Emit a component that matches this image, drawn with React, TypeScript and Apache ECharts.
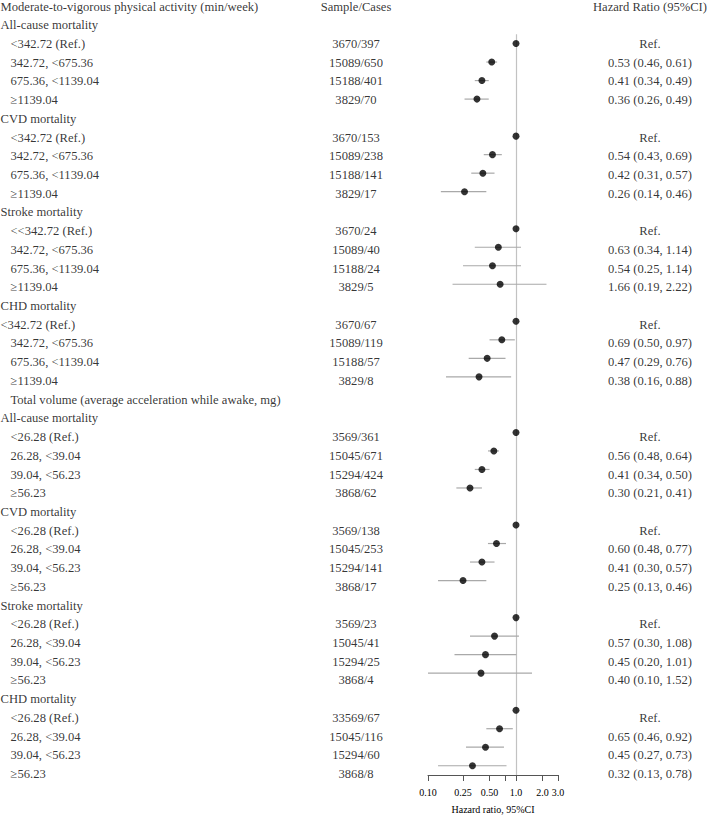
import React, { useEffect, useRef } from "react";
import * as echarts from "echarts";

const FONT = "'Liberation Serif', 'Times New Roman', Times, serif";

const rowLabels: string[] = [
  "Moderate-to-vigorous physical activity (min/week)",
  "All-cause mortality",
  "<342.72 (Ref.)",
  "342.72, <675.36",
  "675.36, <1139.04",
  "≥1139.04",
  "CVD mortality",
  "<342.72 (Ref.)",
  "342.72, <675.36",
  "675.36, <1139.04",
  "≥1139.04",
  "Stroke mortality",
  "<<342.72 (Ref.)",
  "342.72, <675.36",
  "675.36, <1139.04",
  "≥1139.04",
  "CHD mortality",
  "<342.72 (Ref.)",
  "342.72, <675.36",
  "675.36, <1139.04",
  "≥1139.04",
  "Total volume (average acceleration while awake, mg)",
  "All-cause mortality",
  "<26.28 (Ref.)",
  "26.28, <39.04",
  "39.04, <56.23",
  "≥56.23",
  "CVD mortality",
  "<26.28 (Ref.)",
  "26.28, <39.04",
  "39.04, <56.23",
  "≥56.23",
  "Stroke mortality",
  "<26.28 (Ref.)",
  "26.28, <39.04",
  "39.04, <56.23",
  "≥56.23",
  "CHD mortality",
  "<26.28 (Ref.)",
  "26.28, <39.04",
  "39.04, <56.23",
  "≥56.23",
];

const rowIndented: boolean[] = [
  false,
  false, true, true, true, true,
  false, true, true, true, true,
  false, true, true, true, true,
  false, false, true, true, true,
  true,
  false, true, true, true, true,
  false, true, true, true, true,
  false, true, true, true, true,
  false, true, true, true, true,
];

const sampleCases: string[] = [
  "Sample/Cases",
  "", "3670/397", "15089/650", "15188/401", "3829/70",
  "", "3670/153", "15089/238", "15188/141", "3829/17",
  "", "3670/24", "15089/40", "15188/24", "3829/5",
  "", "3670/67", "15089/119", "15188/57", "3829/8",
  "",
  "", "3569/361", "15045/671", "15294/424", "3868/62",
  "", "3569/138", "15045/253", "15294/141", "3868/17",
  "", "3569/23", "15045/41", "15294/25", "3868/4",
  "", "33569/67", "15045/116", "15294/60", "3868/8",
];

const hrTexts: string[] = [
  "Hazard Ratio (95%CI)",
  "", "Ref.", "0.53 (0.46, 0.61)", "0.41 (0.34, 0.49)", "0.36 (0.26, 0.49)",
  "", "Ref.", "0.54 (0.43, 0.69)", "0.42 (0.31, 0.57)", "0.26 (0.14, 0.46)",
  "", "Ref.", "0.63 (0.34, 1.14)", "0.54 (0.25, 1.14)", "1.66 (0.19, 2.22)",
  "", "Ref.", "0.69 (0.50, 0.97)", "0.47 (0.29, 0.76)", "0.38 (0.16, 0.88)",
  "",
  "", "Ref.", "0.56 (0.48, 0.64)", "0.41 (0.34, 0.50)", "0.30 (0.21, 0.41)",
  "", "Ref.", "0.60 (0.48, 0.77)", "0.41 (0.30, 0.57)", "0.25 (0.13, 0.46)",
  "", "Ref.", "0.57 (0.30, 1.08)", "0.45 (0.20, 1.01)", "0.40 (0.10, 1.52)",
  "", "Ref.", "0.65 (0.46, 0.92)", "0.45 (0.27, 0.73)", "0.32 (0.13, 0.78)",
];

// plotted estimates (as drawn in the figure)
const hrPoint: (number | null)[] = [
  null,
  null, 1, 0.53, 0.41, 0.36,
  null, 1, 0.54, 0.42, 0.26,
  null, 1, 0.63, 0.54, 0.66,
  null, 1, 0.69, 0.47, 0.38,
  null,
  null, 1, 0.56, 0.41, 0.30,
  null, 1, 0.60, 0.41, 0.25,
  null, 1, 0.57, 0.45, 0.40,
  null, 1, 0.65, 0.45, 0.32,
];

const ciLower: (number | null)[] = [
  null,
  null, null, 0.46, 0.34, 0.26,
  null, null, 0.43, 0.31, 0.14,
  null, null, 0.34, 0.25, 0.19,
  null, null, 0.50, 0.29, 0.16,
  null,
  null, null, 0.48, 0.34, 0.21,
  null, null, 0.48, 0.30, 0.13,
  null, null, 0.30, 0.20, 0.10,
  null, null, 0.46, 0.27, 0.13,
];

const ciUpper: (number | null)[] = [
  null,
  null, null, 0.61, 0.49, 0.49,
  null, null, 0.69, 0.57, 0.46,
  null, null, 1.14, 1.14, 2.22,
  null, null, 0.97, 0.76, 0.88,
  null,
  null, null, 0.64, 0.50, 0.41,
  null, null, 0.77, 0.57, 0.46,
  null, null, 1.08, 1.01, 1.52,
  null, null, 0.92, 0.73, 0.78,
];

const axisTickValues = [0.1, 0.25, 0.5, 0.75, 1, 2, 3];
const axisTickLabels = ["0.10", "0.25", "0.50", "", "1.0", "2.0", "3.0"];
const axisTitle = "Hazard ratio, 95%CI";

export default function App() {
  const ref = useRef<HTMLDivElement>(null);

  useEffect(() => {
    const chart = echarts.init(ref.current!, null, { renderer: "svg" });
    const nRows = rowLabels.length;
    const top = 6.5;
    const height = 776.9;
    const lg = (v: number) => Math.log10(v);

    const ciData: number[][] = [];
    const pointData: number[][] = [];
    hrPoint.forEach((v, i) => {
      if (v != null) pointData.push([lg(v), i]);
      const lo = ciLower[i];
      const hi = ciUpper[i];
      if (lo != null && hi != null) ciData.push([lg(lo), lg(hi), i]);
    });

    const textStyle = { fontFamily: FONT, fontSize: 12.6, color: "#000" };

    const leftData = rowLabels.map((t, i) => ({
      name: t,
      value: [rowIndented[i] ? 10 : 0, i],
    }));
    const sampleData = sampleCases
      .map((t, i) => ({ name: t, value: [356, i] }))
      .filter((d) => d.name !== "");
    const hrData = hrTexts
      .map((t, i) => ({ name: t, value: [650, i] }))
      .filter((d) => d.name !== "");

    const tickLog = axisTickValues.map(lg);
    const labelLog = axisTickValues.filter((_, i) => axisTickLabels[i] !== "").map(lg);

    const yAxisBase = {
      type: "value",
      inverse: true,
      min: 0,
      max: nRows - 0.5,
      show: false,
    };

    chart.setOption({
      animation: false,
      grid: [
        { left: 428, width: 130, top, height },
        { left: 0, width: 709, top, height },
      ],
      xAxis: [
        {
          type: "value",
          gridIndex: 0,
          min: -1,
          max: lg(3),
          axisLine: { show: true, onZero: false, lineStyle: { color: "#555", width: 1 } },
          axisTick: {
            show: true,
            length: 6,
            customValues: tickLog,
            lineStyle: { color: "#555", width: 1 },
          },
          axisLabel: {
            customValues: labelLog,
            formatter: (v: number) => {
              const idx = tickLog.findIndex((t) => Math.abs(t - v) < 1e-6);
              return idx >= 0 ? axisTickLabels[idx] : "";
            },
            fontSize: 10,
            fontFamily: FONT,
            color: "#000",
            margin: 12,
          },
          splitLine: { show: false },
          name: axisTitle,
          nameLocation: "middle",
          nameGap: 29,
          nameTextStyle: { fontSize: 10, fontFamily: FONT, color: "#000" },
        },
        { type: "value", gridIndex: 1, min: 0, max: 709, show: false },
      ],
      yAxis: [
        { ...yAxisBase, gridIndex: 0 },
        { ...yAxisBase, gridIndex: 1 },
      ],
      series: [
        {
          type: "custom",
          xAxisIndex: 0,
          yAxisIndex: 0,
          silent: true,
          encode: { x: [0, 1], y: 2 },
          data: ciData,
          renderItem: (_params: any, api: any) => {
            const p1 = api.coord([api.value(0), api.value(2)]);
            const p2 = api.coord([api.value(1), api.value(2)]);
            return {
              type: "line",
              shape: { x1: p1[0], y1: p1[1], x2: p2[0], y2: p2[1] },
              style: { stroke: "#a9a9a9", lineWidth: 1.2 },
            };
          },
          z: 2,
        },
        {
          type: "scatter",
          xAxisIndex: 0,
          yAxisIndex: 0,
          silent: true,
          symbol: "circle",
          symbolSize: 7,
          itemStyle: { color: "#000" },
          data: pointData,
          z: 3,
          markLine: {
            silent: true,
            symbol: ["none", "none"],
            label: { show: false },
            lineStyle: { color: "#c2c2c2", type: "solid", width: 1.2 },
            data: [[{ coord: [0, 1.5] }, { coord: [0, nRows - 0.5] }]],
            z: 1,
          },
        },
        {
          type: "scatter",
          xAxisIndex: 1,
          yAxisIndex: 1,
          silent: true,
          symbolSize: 1,
          itemStyle: { color: "transparent" },
          data: leftData,
          label: {
            show: true,
            position: "right",
            distance: 0,
            formatter: "{b}",
            ...textStyle,
          },
        },
        {
          type: "scatter",
          xAxisIndex: 1,
          yAxisIndex: 1,
          silent: true,
          symbolSize: 1,
          itemStyle: { color: "transparent" },
          data: sampleData,
          label: {
            show: true,
            position: "inside",
            formatter: "{b}",
            ...textStyle,
          },
        },
        {
          type: "scatter",
          xAxisIndex: 1,
          yAxisIndex: 1,
          silent: true,
          symbolSize: 1,
          itemStyle: { color: "transparent" },
          data: hrData,
          label: {
            show: true,
            position: "inside",
            formatter: "{b}",
            ...textStyle,
          },
        },
      ],
    });

    return () => chart.dispose();
  }, []);

  return (
    <div
      ref={ref}
      style={{ position: "absolute", left: 0, top: 0, width: 709, height: 819, background: "#fff" }}
    />
  );
}
